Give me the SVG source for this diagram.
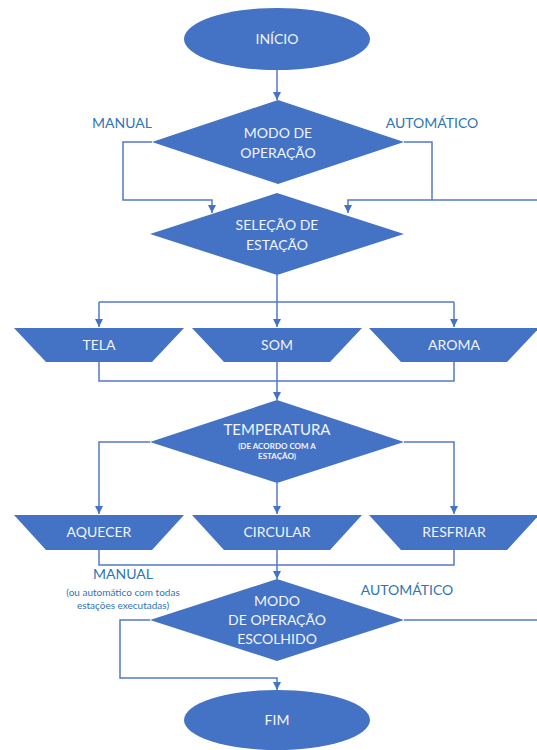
<svg xmlns="http://www.w3.org/2000/svg" width="537" height="750" viewBox="0 0 537 750">
<style>
.n{fill:#4472C4;}
.t{fill:#F2F5FB;font-family:Lato,"Liberation Sans",sans-serif;font-size:14px;text-anchor:middle;}
.s{font-size:8px;font-weight:bold;}
.l{fill:#2E75B6;font-family:Lato,"Liberation Sans",sans-serif;font-size:14px;text-anchor:middle;}
.c{fill:none;stroke:#5479C6;stroke-width:1.5;}
</style>
<defs>
<marker id="a" markerWidth="10" markerHeight="10" refX="8" refY="4" orient="auto" markerUnits="userSpaceOnUse">
<path d="M0,0 L8,4 L0,8 z" fill="#4472C4"/>
</marker>
</defs>
<rect width="537" height="750" fill="#fff"/>
<g id="connectors">
<path class="c" d="M277,70 V100" marker-end="url(#a)"/>
<path class="c" d="M152,142 H123 V200 H212 V213" marker-end="url(#a)"/>
<path class="c" d="M404,142 H432 V200"/>
<path class="c" d="M537,200 H348 V213" marker-end="url(#a)"/>
<path class="c" d="M277,275 V327" marker-end="url(#a)"/>
<path class="c" d="M99,302 H454"/>
<path class="c" d="M99,302 V327" marker-end="url(#a)"/>
<path class="c" d="M454,302 V327" marker-end="url(#a)"/>
<path class="c" d="M99,362 V381 H454 V362"/>
<path class="c" d="M277,362 V400" marker-end="url(#a)"/>
<path class="c" d="M150,442 H99 V514" marker-end="url(#a)"/>
<path class="c" d="M404,442 H454 V514" marker-end="url(#a)"/>
<path class="c" d="M277,483 V514" marker-end="url(#a)"/>
<path class="c" d="M99,550 V565 H454 V550"/>
<path class="c" d="M277,550 V579" marker-end="url(#a)"/>
<path class="c" d="M150,620 H120 V678 H277 V690" marker-end="url(#a)"/>
<path class="c" d="M404,620 H537"/>
</g>
<g id="inicio">
<ellipse class="n" cx="277" cy="39" rx="93" ry="31"/>
<text class="t" x="277" y="44">INÍCIO</text>
</g>
<g id="modo">
<polygon class="n" points="278,100 404,142 278,184 152,142"/>
<text class="t" x="278" y="138">MODO DE</text>
<text class="t" x="278" y="158">OPERAÇÃO</text>
</g>
<g id="label-manual">
<text class="l" x="122" y="128">MANUAL</text>
</g>
<g id="label-auto">
<text class="l" x="432" y="128">AUTOMÁTICO</text>
</g>
<g id="selecao">
<polygon class="n" points="277,193 404,234 277,275 150,234"/>
<text class="t" x="277" y="230">SELEÇÃO DE</text>
<text class="t" x="277" y="250">ESTAÇÃO</text>
</g>
<g id="tela">
<polygon class="n" points="14,328 184,328 152,362 46,362"/>
<text class="t" x="99" y="350">TELA</text>
</g>
<g id="som">
<polygon class="n" points="192,328 362,328 330,362 224,362"/>
<text class="t" x="277" y="350">SOM</text>
</g>
<g id="aroma">
<polygon class="n" points="369,328 539,328 507,362 401,362"/>
<text class="t" x="454" y="350">AROMA</text>
</g>
<g id="temperatura">
<polygon class="n" points="277,400 404,442 277,483 150,442"/>
<text class="t" x="277" y="435" style="font-size:15px">TEMPERATURA</text>
<text class="t s" x="277" y="449">(DE ACORDO COM A</text>
<text class="t s" x="277" y="459">ESTAÇÃO)</text>
</g>
<g id="aquecer">
<polygon class="n" points="14,515 184,515 152,550 46,550"/>
<text class="t" x="99" y="537">AQUECER</text>
</g>
<g id="circular">
<polygon class="n" points="192,515 362,515 330,550 224,550"/>
<text class="t" x="277" y="537">CIRCULAR</text>
</g>
<g id="resfriar">
<polygon class="n" points="369,515 539,515 507,550 401,550"/>
<text class="t" x="454" y="537">RESFRIAR</text>
</g>
<g id="label-manual2">
<text class="l" x="123" y="579">MANUAL</text>
<text class="l" x="123" y="596" style="font-size:10px">(ou automático com todas</text>
<text class="l" x="123" y="609" style="font-size:10px">estações executadas)</text>
</g>
<g id="label-auto2">
<text class="l" x="407" y="595">AUTOMÁTICO</text>
</g>
<g id="modo-escolhido">
<polygon class="n" points="277,579 404,620 277,661 150,620"/>
<text class="t" x="277" y="606">MODO</text>
<text class="t" x="277" y="625">DE OPERAÇÃO</text>
<text class="t" x="277" y="644">ESCOLHIDO</text>
</g>
<g id="fim">
<ellipse class="n" cx="277" cy="720" rx="93" ry="30"/>
<text class="t" x="277" y="725">FIM</text>
</g>
</svg>
